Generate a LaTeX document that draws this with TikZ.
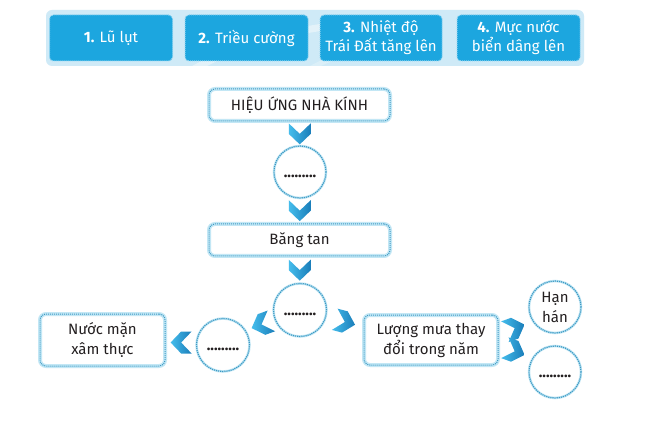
\documentclass[tikz,border=0pt]{standalone}
\usepackage{fontspec}
\setmainfont{Fira Sans}
\usetikzlibrary{calc}
\definecolor{btn}{HTML}{1CA6DF}
\definecolor{btnline}{HTML}{8DD3F1}
\definecolor{panel}{HTML}{CFEAF7}
\definecolor{swoosh}{HTML}{E3F2F9}
\definecolor{rim}{HTML}{C3E7F5}
\definecolor{dotc}{HTML}{3D9AC4}
\definecolor{chevtop}{HTML}{45BDEC}
\definecolor{chevbot}{HTML}{1A7DB9}
\definecolor{ink}{HTML}{231F20}
\tikzset{
  txt/.style={font=\fontsize{15}{20}\selectfont, text=ink, align=center},
  btnbox/.style={fill=btn, rounded corners=4pt, text=white, align=center, inner sep=0pt,
    font=\fontsize{15}{19}\selectfont, minimum height=46pt,
    postaction={draw=btnline, line width=1pt, dash pattern=on 1pt off 1pt}},
  mbox/.style={txt, draw=rim, line width=4pt, fill=white, rounded corners=6pt, inner sep=0pt,
    postaction={draw=dotc, line width=1pt, dash pattern=on 1pt off 1pt}},
  circ/.style={txt, circle, draw=rim, line width=2.5pt, fill=white, inner sep=0pt,
    postaction={draw=dotc, line width=1.2pt, dash pattern=on 1.2pt off 0.9pt}},
  chevron/.pic={
    \shade[left color=chevtop, right color=chevbot]
      (-10.5,-11) -- (0,-11) -- (10.5,0) -- (0,11) -- (-10.5,11) -- (0,0) -- cycle;
  }
}
\newcommand{\blank}{\raisebox{-11pt}{\textbf{.........}}}
\begin{document}
\begin{tikzpicture}[x=1pt,y=-1pt]
\useasboundingbox (0,0) rectangle (652,427);
\fill[white] (0,0) rectangle (652,427);
% banner
\fill[panel, rounded corners=6pt] (46,10) rectangle (584,66);
\begin{scope}
  \clip[rounded corners=6pt] (46,10) rectangle (584,66);
  \draw[swoosh, line width=7pt] (175,80) .. controls (240,40) and (300,25) .. (400,20);
  \draw[swoosh!60!panel, line width=5pt] (300,75) .. controls (330,55) and (360,48) .. (420,45);
\end{scope}
\node[btnbox, minimum width=123pt] (b1) at (111,38) {\textbf{1.} Lũ lụt};
\node[btnbox, minimum width=123pt] (b2) at (246.5,38) {\textbf{2.} Triều cường};
\node[btnbox, minimum width=122pt] (b3) at (381,38) {\textbf{3.} Nhiệt độ\\Trái Đất tăng lên};
\node[btnbox, minimum width=123pt] (b4) at (518.5,38) {\textbf{4.} Mực nước\\biển dâng lên};
% main chain
\node[mbox, minimum width=181pt, minimum height=32pt] (hieu) at (299.5,105) {HIỆU ỨNG NHÀ KÍNH};
\node[circ, minimum size=52pt] (c1) at (300,172) {\blank};
\node[mbox, minimum width=181pt, minimum height=32pt] (bang) at (299.5,240) {Băng tan};
\node[circ, minimum size=53pt] (c2) at (300,310) {\blank};
\node[circ, minimum size=53pt] (c3) at (223,345) {\blank};
\node[mbox, minimum width=125pt, minimum height=52pt] (nuoc) at (102.5,340) {Nước mặn\\xâm thực};
\node[mbox, minimum width=134pt, minimum height=50pt] (lm) at (431,340) {Lượng mưa thay\\đổi trong năm};
\node[circ, minimum size=52pt] (han) at (555,307) {Hạn\\hán};
\node[circ, minimum size=52pt] (low) at (555,372) {\blank};
% chevrons
\pic[rotate=-90] at ($(hieu.south)!0.5!(c1.north)$) {chevron};
\pic[rotate=-90] at ($(c1.south)!0.5!(bang.north)$) {chevron};
\pic[rotate=-90] at ($(bang.south)!0.5!(c2.north)$) {chevron};
\pic[rotate=200] at ($(c2)!0.5!(c3)+(0,-3)$) {chevron};
\pic[rotate=180] at ($(c3.west)!0.5!(nuoc.east)$) {chevron};
\pic[rotate=-15] at ($(c2.east)!0.5!(lm.west)+(0,-3)$) {chevron};
\pic[rotate=20] at ($(lm.east)!0.5!(han.200)$) {chevron};
\pic[rotate=-20] at ($(lm.east)!0.5!(low.160)$) {chevron};
\end{tikzpicture}
\end{document}
